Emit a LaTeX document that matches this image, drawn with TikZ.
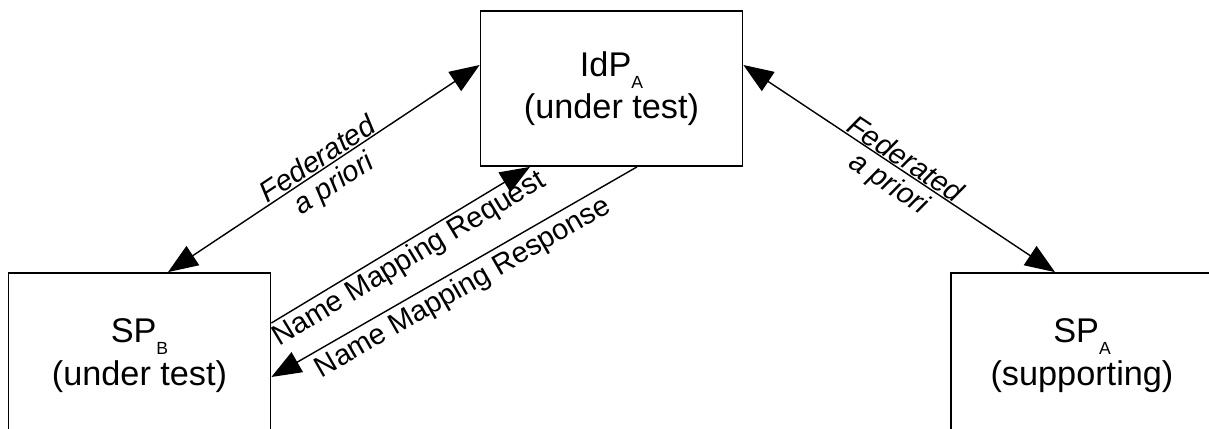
\documentclass[tikz,border=0pt]{standalone}
\usepackage{fontspec}
\setmainfont{Liberation Sans}
\usetikzlibrary{arrows.meta}
\newcommand{\lowidx}[1]{\raisebox{-6.8pt}{\fontsize{10}{10}\selectfont #1}}
\tikzset{
  party/.style={draw, line width=1pt, minimum width=5.24cm, align=center,
    font=\fontsize{19.5}{24}\selectfont},
  link/.style={line width=0.8pt, >={Triangle[length=17pt,width=13pt]}},
  msglabel/.style={sloped, font=\fontsize{16.5}{18}\selectfont},
  fedlabel/.style={sloped, font=\fontsize{16.5}{18}\selectfont\itshape},
}

\begin{document}
\begin{tikzpicture}
\clip (0,0) rectangle (24.18,8.56);
% the three parties
\node[party, minimum height=3.1cm] (idp) at (12.23,6.79) {IdP\lowidx{A}\\(under test)};
\node[party, minimum height=3.3cm] (spb) at (2.79,1.45) {SP\lowidx{B}\\(under test)};
\node[party, minimum height=3.3cm] (spa) at (21.64,1.45) {SP\lowidx{A}\\(supporting)};
% federation
\draw[link,<->] ([xshift=0.57cm]spb.north) -- ([yshift=0.47cm]idp.west)
  node[fedlabel, midway, above, inner sep=0.5pt] {Federated}
  node[fedlabel, midway, below, inner sep=3pt] {a priori};
\draw[link,<->] ([yshift=0.47cm]idp.east) -- ([xshift=-0.54cm]spa.north)
  node[fedlabel, midway, above, inner sep=0.5pt] {Federated}
  node[fedlabel, midway, below, inner sep=3pt] {a priori};
% name mapping
\draw[link,->] ([yshift=0.65cm]spb.east) -- ([xshift=-1.63cm]idp.south)
  node[msglabel, midway, below, inner sep=1.5pt] {Name Mapping Request};
\draw[link,<-] ([yshift=-0.43cm]spb.east) -- ([xshift=0.51cm]idp.south)
  node[msglabel, midway, below, inner sep=2.5pt] {Name Mapping Response};
\end{tikzpicture}
\end{document}
